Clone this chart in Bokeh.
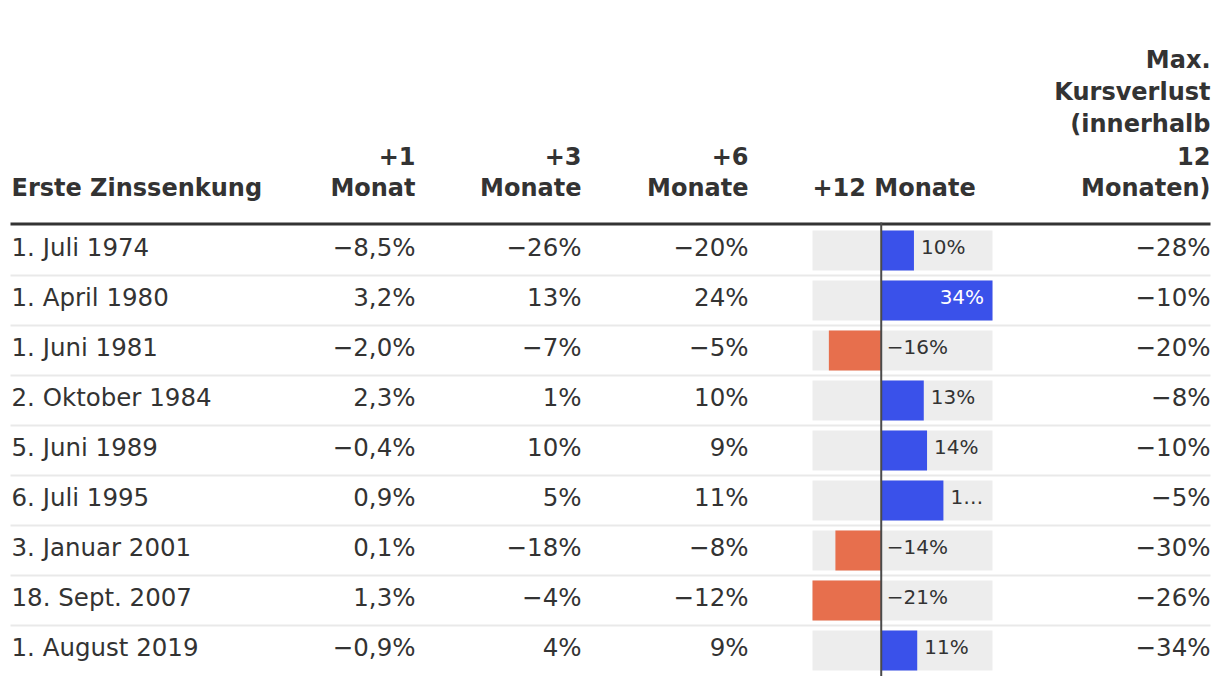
from bokeh.plotting import figure
from bokeh.models import ColumnDataSource, Range1d
from bokeh.core.properties import value
from bokeh.embed import file_html
from bokeh.resources import INLINE

# ---------------- data ----------------
dates = ["1. Juli 1974", "1. April 1980", "1. Juni 1981", "2. Oktober 1984",
         "5. Juni 1989", "6. Juli 1995", "3. Januar 2001", "18. Sept. 2007",
         "1. August 2019"]
m1 = [-8.5, 3.2, -2.0, 2.3, -0.4, 0.9, 0.1, 1.3, -0.9]
m3 = [-26, 13, -7, 1, 10, 5, -18, -4, 4]
m6 = [-20, 24, -5, 10, 9, 11, -8, -12, 9]
m12 = [10, 34, -16, 13, 14, 19, -14, -21, 11]
m12_labels = ["10%", "34%", "−16%", "13%", "14%", "1…", "−14%", "−21%", "11%"]
maxloss = [-28, -10, -20, -8, -10, -5, -30, -26, -34]

headers_left = ["Erste Zinssenkung"]
header_m1 = ["+1", "Monat"]
header_m3 = ["+3", "Monate"]
header_m6 = ["+6", "Monate"]
header_m12 = ["+12 Monate"]
header_max = ["Max.", "Kursverlust", "(innerhalb", "12", "Monaten)"]

# ---------------- helpers ----------------
def fmt1(v):
    s = f"{abs(v):.1f}".replace(".", ",") + "%"
    return ("−" + s) if v < 0 else s

def fmt0(v):
    s = f"{abs(v):.0f}%"
    return ("−" + s) if v < 0 else s

# ---------------- layout (pixels) ----------------
W, H = 1212, 676
X0, Y0 = 0, 0
FONT = value("DejaVu Sans")
TXT = "#333333"
TEXT_DY = -10
row_top0 = 225
row_h = 50
n = len(dates)
row_centers = [row_top0 + row_h / 2 + row_h * i for i in range(n)]
baselines = [c + 7 + TEXT_DY for c in row_centers]

col_date_x = 11
col_m1_x = 415
col_m3_x = 581
col_m6_x = 748
col_bar_left, col_bar_right = 812, 992
col_max_x = 1210

p = figure(width=W, height=H, output_backend="svg", toolbar_location=None,
           x_range=Range1d(X0, X0 + W), y_range=Range1d(Y0 + H, Y0),
           min_border=0, outline_line_color=None)
p.axis.visible = False
p.grid.visible = False
p.background_fill_color = "white"
p.border_fill_color = "white"

# bar scale: own range mapped so that [min, max] fills the column
lo, hi = min(m12), max(m12)
k = (col_bar_right - col_bar_left) / (hi - lo)
zero_px = col_bar_left - lo * k
p.extra_x_ranges = {"bar": Range1d((X0 - zero_px) / k, (X0 + W - zero_px) / k)}

# separators
sep_y = [row_top0 + row_h * (i + 1) for i in range(n - 1)]
p.segment(x0=[10] * len(sep_y), x1=[1210] * len(sep_y), y0=sep_y, y1=sep_y,
          line_color="#e9e9e9", line_width=2)
# header rule
p.segment(x0=[10], x1=[1210], y0=[223.5], y1=[223.5], line_color="#333333", line_width=3)

# bar backgrounds and bars
bar_src = ColumnDataSource(dict(
    y=row_centers, v=m12, lo=[lo] * n, hi=[hi] * n, z=[0] * n,
    color=["#3a51ea" if v >= 0 else "#e76f4d" for v in m12]))
p.hbar(y="y", left="lo", right="hi", height=40, source=bar_src, x_range_name="bar",
       fill_color="#ededed", line_color=None)
p.hbar(y="y", left="z", right="v", height=40, source=bar_src, x_range_name="bar",
       fill_color="color", line_color=None)

# zero line
p.segment(x0=[0], x1=[0], y0=[222], y1=[Y0 + H], x_range_name="bar",
          line_color="#4a4a4a", line_width=2)

# bar labels
pad = 7 / k
inside = [v > 0 and (hi - v) * k < 40 for v in m12]
lab_x, lab_align, lab_col = [], [], []
for v, ins in zip(m12, inside):
    if v < 0:
        lab_x.append(pad * 0.8); lab_align.append("left"); lab_col.append(TXT)
    elif ins:
        lab_x.append(v - pad * 1.2); lab_align.append("right"); lab_col.append("white")
    else:
        lab_x.append(v + pad); lab_align.append("left"); lab_col.append(TXT)
lab_src = ColumnDataSource(dict(x=lab_x, y=[b - 0.5 for b in baselines], t=m12_labels,
                                a=lab_align, c=lab_col))
p.text(x="x", y="y", text="t", source=lab_src, x_range_name="bar", text_align="a",
       text_color="c", text_font=FONT, text_font_size="20px",
       text_baseline="alphabetic")

# body text
def col_text(xpos, texts, align):
    src = ColumnDataSource(dict(x=[xpos] * n, y=baselines, t=texts))
    p.text(x="x", y="y", text="t", source=src, text_align=align,
           text_baseline="alphabetic", text_color=TXT, text_font=FONT,
           text_font_size="24.5px")

col_text(col_date_x, dates, "left")
col_text(col_m1_x, [fmt1(v) for v in m1], "right")
col_text(col_m3_x, [fmt0(v) for v in m3], "right")
col_text(col_m6_x, [fmt0(v) for v in m6], "right")
col_text(col_max_x, [fmt0(v) for v in maxloss], "right")

# headers
hdr_base = 197 + TEXT_DY
hdr_lh = 32
def header(xpos, lines, align):
    m = len(lines)
    ys = [hdr_base - hdr_lh * (m - 1 - j) for j in range(m)]
    src = ColumnDataSource(dict(x=[xpos] * m, y=ys, t=lines))
    p.text(x="x", y="y", text="t", source=src, text_align=align,
           text_baseline="alphabetic", text_color=TXT, text_font=FONT,
           text_font_size="24px", text_font_style="bold")

header(col_date_x, headers_left, "left")
header(col_m1_x, header_m1, "right")
header(col_m3_x, header_m3, "right")
header(col_m6_x, header_m6, "right")
header(col_bar_left, header_m12, "left")
header(col_max_x, header_max, "right")

open("out.html", "w").write(file_html(p, INLINE))
